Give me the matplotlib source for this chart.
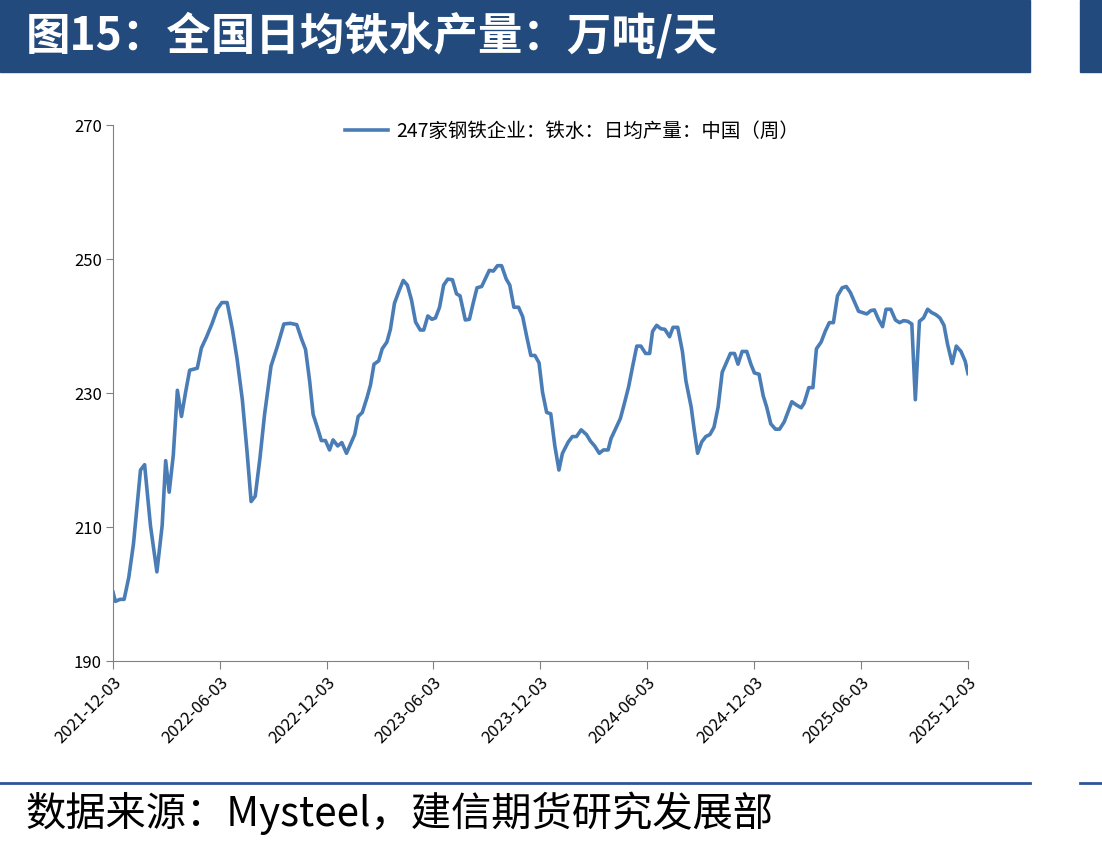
import numpy as np
import pandas as pd
import matplotlib
matplotlib.use("Agg")
import matplotlib.pyplot as plt
import matplotlib.dates as mdates
from matplotlib.patches import Rectangle
from matplotlib.lines import Line2D

plt.rcParams['font.family'] = ['Noto Sans CJK SC', 'DejaVu Sans']

# data: days after 2021-12-03, value in 万吨/天
start = pd.Timestamp("2021-12-03")
days = [0, 4, 12, 19, 27, 35, 47, 54, 64, 75, 84, 90, 96, 103, 110, 117, 124, 131,
        144, 151, 160, 169, 178, 186, 195, 204, 212, 221, 229, 236, 243, 251, 259,
        270, 281, 292, 303, 314, 322, 329, 336, 342, 349, 356, 363, 370, 376, 384,
        391, 399, 406, 413, 419, 426, 434, 440, 446, 454, 460, 468, 474, 481, 489,
        496, 503, 510, 517, 525, 531, 538, 545, 551, 558, 565, 572, 580, 587, 593,
        602, 609, 616, 622, 630, 637, 643, 650, 657, 664, 672, 678, 685, 693, 700,
        707, 714, 721, 728, 734, 741, 748, 755, 762, 768, 778, 785, 792, 800, 809,
        816, 823, 831, 838, 846, 851, 860, 867, 874, 881, 888, 895, 902, 910, 917,
        922, 929, 936, 943, 951, 957, 965, 973, 979, 988, 993, 999, 1006, 1013,
        1020, 1027, 1034, 1041, 1048, 1055, 1062, 1068, 1075, 1083, 1090, 1096,
        1104, 1111, 1117, 1124, 1132, 1139, 1147, 1160, 1168, 1176, 1181, 1189,
        1196, 1202, 1210, 1217, 1224, 1231, 1238, 1246, 1253, 1260, 1267, 1274,
        1281, 1288, 1295, 1301, 1308, 1315, 1321, 1329, 1337, 1344, 1351, 1358,
        1365, 1371, 1378, 1385, 1392, 1399, 1406, 1413, 1420, 1426, 1434, 1441,
        1449, 1456, 1461]
values = [200.3, 198.9, 199.2, 199.2, 202.5, 207.5, 218.5, 219.3, 210.2, 203.3,
          210.2, 219.9, 215.2, 220.7, 230.4, 226.5, 230.1, 233.4, 233.7, 236.7,
          238.4, 240.3, 242.5, 243.5, 243.5, 239.5, 235.1, 229.0, 221.3, 213.8,
          214.6, 220.2, 226.8, 234.0, 237.0, 240.3, 240.4, 240.2, 238.1, 236.5,
          231.8, 226.8, 224.9, 222.9, 222.9, 221.5, 223.0, 222.1, 222.6, 221.0,
          222.4, 223.8, 226.5, 227.1, 229.3, 231.2, 234.3, 234.8, 236.6, 237.6,
          239.5, 243.4, 245.3, 246.8, 246.1, 243.9, 240.6, 239.4, 239.4, 241.5,
          241.0, 241.2, 242.8, 246.1, 247.0, 246.9, 244.8, 244.5, 240.9, 241.0,
          243.6, 245.7, 245.9, 247.2, 248.3, 248.2, 249.0, 249.0, 247.0, 246.1,
          242.8, 242.8, 241.4, 238.4, 235.6, 235.6, 234.5, 230.1, 227.1, 226.9,
          222.1, 218.5, 221.0, 222.7, 223.5, 223.5, 224.5, 223.8, 222.8, 222.1,
          221.0, 221.5, 221.5, 223.2, 224.9, 226.2, 228.5, 230.9, 234.0, 237.0,
          237.0, 235.9, 235.9, 239.2, 240.1, 239.6, 239.5, 238.4, 239.8, 239.8,
          236.2, 231.8, 227.9, 224.6, 221.0, 222.7, 223.5, 223.8, 224.9, 227.9,
          233.1, 234.5, 235.9, 235.9, 234.3, 236.2, 236.2, 234.3, 233.0, 232.8,
          229.6, 227.9, 225.4, 224.6, 224.6, 225.7, 228.7, 228.2, 227.8, 228.5,
          230.8, 230.8, 236.6, 237.6, 239.2, 240.5, 240.5, 244.5, 245.7, 245.9,
          245.0, 243.6, 242.2, 242.0, 241.8, 242.3, 242.4, 241.0, 239.9, 242.5,
          242.5, 240.9, 240.5, 240.8, 240.7, 240.3, 229.0, 240.7, 241.2, 242.5,
          242.0, 241.7, 241.2, 240.1, 237.3, 234.4, 237.0, 236.2, 234.8, 232.9]

tick_dates = ["2021-12-03", "2022-06-03", "2022-12-03", "2023-06-03", "2023-12-03",
              "2024-06-03", "2024-12-03", "2025-06-03", "2025-12-03"]
y_ticks = [190, 210, 230, 250, 270]

title = "图15：全国日均铁水产量：万吨/天"
series_name = "247家钢铁企业：铁水：日均产量：中国（周）"
source = "数据来源：Mysteel，建信期货研究发展部"

navy = "#234A7C"
line_color = "#4A7DB6"

dates = start + pd.to_timedelta(days, unit="D")

fig = plt.figure(figsize=(11.02, 8.48), dpi=100)
W, H = 1102, 848

# header banner
fig.patches.append(Rectangle((0, 1 - 72 / H), 1030 / W, 72 / H, transform=fig.transFigure,
                             color=navy, zorder=0))
fig.patches.append(Rectangle((1080 / W, 1 - 72 / H), 22 / W, 72 / H, transform=fig.transFigure,
                             color=navy, zorder=0))
fig.text(26 / W, 1 - 36 / H, title, color="white", fontsize=32, fontweight="bold",
         va="center", ha="left")

# bottom rule and source
fig.add_artist(Line2D([0, 1030 / W], [1 - 783 / H] * 2, color="#2F5597", lw=2))
fig.add_artist(Line2D([1080 / W, 1], [1 - 783 / H] * 2, color="#2F5597", lw=2))
fig.text(25 / W, 1 - 813 / H, source, color="black", fontsize=29, style="italic",
         va="center", ha="left")

ax = fig.add_axes([113 / W, 1 - 661 / H, 855 / W, 536 / H])
ax.plot(dates, values, color=line_color, lw=2.6, label=series_name)

ax.set_xlim(pd.Timestamp(tick_dates[0]), pd.Timestamp(tick_dates[-1]))
ax.set_ylim(190, 270)
ax.set_yticks(y_ticks)
ax.set_xticks([pd.Timestamp(d) for d in tick_dates])
ax.set_xticklabels(tick_dates, rotation=45, ha="right", rotation_mode="anchor", fontsize=12)
ax.tick_params(axis="y", labelsize=12, length=5, color="#808080", pad=3)
ax.tick_params(axis="x", length=6, color="#808080")

for s in ["top", "right"]:
    ax.spines[s].set_visible(False)
for s in ["left", "bottom"]:
    ax.spines[s].set_color("#808080")

ax.legend(loc="upper center", bbox_to_anchor=(0.537, 1.04), frameon=False, fontsize=14,
          handlelength=2.2, handletextpad=0.4)

fig.savefig("out.png", dpi=100)
